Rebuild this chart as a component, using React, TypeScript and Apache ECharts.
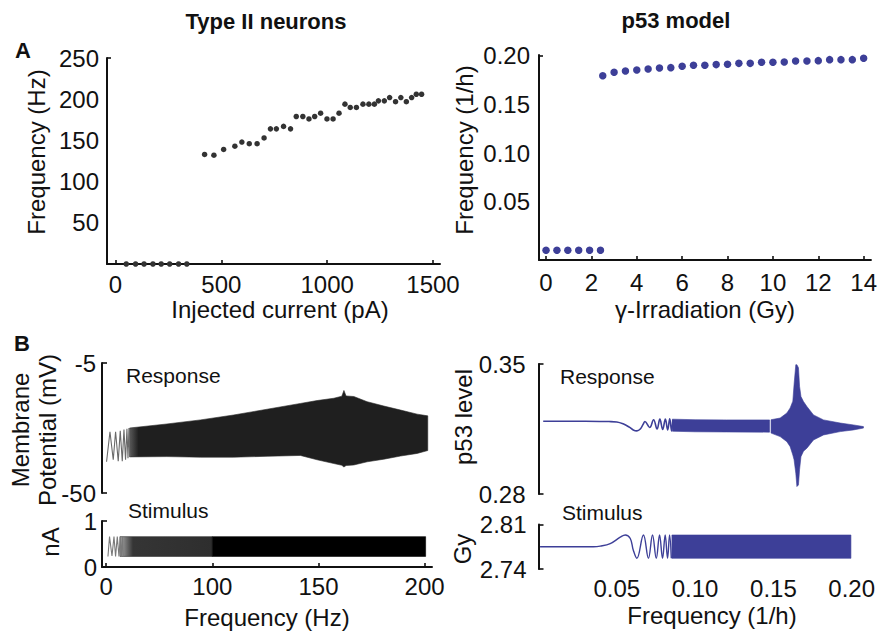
import React, { useEffect, useRef } from 'react';
import * as echarts from 'echarts';

const FONT = "'Liberation Sans', Arial, Helvetica, sans-serif";
const INK = '#111111';
const BLUE = '#3d3f98';
const DOT = '#333333';

// ---------- A (left): type II neuron, firing rate vs injected current ----------
const neuronCurrentPA = [
  51, 95, 135, 177, 216, 256, 298, 337,
  421, 465, 511, 564, 597, 632, 669, 702, 732, 760,
  794, 827, 854, 885, 914, 941, 969, 999, 1028, 1056,
  1084, 1109, 1138, 1169, 1197, 1223, 1242, 1270, 1295, 1323,
  1348, 1374, 1399, 1421, 1446,
];
const neuronRateHz = [
  0, 0, 0, 0, 0, 0, 0, 0,
  133, 132, 139, 143, 148, 146, 146, 153, 164, 164,
  167, 164, 179, 179, 176, 179, 183, 176, 176, 183,
  194, 190, 190, 194, 194, 194, 198, 198, 202, 197,
  202, 197, 202, 206, 206,
];
const neuronXTicks = [0, 500, 1000, 1500];
const neuronYTicks = [50, 100, 150, 200, 250];

// ---------- A (right): p53 oscillation frequency vs dose ----------
const doseGy = [
  0, 0.48, 0.96, 1.44, 1.92, 2.4,
  2.5, 3, 3.5, 4, 4.5, 5, 5.5, 6, 6.5, 7, 7.5, 8,
  8.5, 9, 9.5, 10, 10.5, 11, 11.5, 12, 12.5, 13, 13.5, 14,
];
const p53FreqPerH = [
  0, 0, 0, 0, 0, 0,
  0.1797, 0.1832, 0.1846, 0.1856, 0.1866, 0.1876, 0.188, 0.1894, 0.1904, 0.1904, 0.1911, 0.1914,
  0.1924, 0.1924, 0.1935, 0.1935, 0.1938, 0.1949, 0.1949, 0.1952, 0.1962, 0.1962, 0.1962, 0.1976,
];
const doseTicks = [0, 2, 4, 6, 8, 10, 12, 14];
const p53FreqTicks = [0.05, 0.1, 0.15, 0.2];

// ---------- B (left): chirp protocol; time axis normalised so ticks sit at 0..3 ----------
const chirpTickPos = [0, 1, 2, 3];
const chirpTickLabels = ['0', '100', '150', '200'];

// first resolvable cycles of the membrane response (mV)
const vmOnsetT = [0.003, 0.035, 0.066, 0.088, 0.113, 0.132, 0.151, 0.167, 0.182, 0.195, 0.205, 0.214, 0.222];
const vmOnsetMV = [-39.2, -28.8, -38.5, -28.8, -39.0, -28.5, -39.0, -28.0, -38.5, -27.8, -38.0, -27.5, -37.5];
// envelope of the dense part of the response (mV)
const vmEnvT = [0.22, 0.572, 0.887, 1.2, 1.516, 1.83, 1.987, 2.145, 2.22, 2.24, 2.26, 2.333, 2.459, 2.616, 2.774, 2.93, 3.03];
const vmEnvHi = [-27.5, -26.1, -24.7, -23.0, -21.0, -19.0, -18.0, -17.2, -16.5, -14.5, -16.4, -16.6, -18.4, -19.9, -21.3, -22.7, -23.3];
const vmEnvLo = [-37.5, -37.4, -37.6, -37.6, -37.3, -37.0, -38.5, -39.8, -40.4, -41.0, -40.5, -40.3, -39.2, -38.3, -37.2, -36.3, -35.3];
const vmYTicks = [-50, -5];

// injected current (nA)
const stimOnsetT = [0.016, 0.031, 0.054, 0.073, 0.088, 0.104, 0.12, 0.132, 0.143, 0.152, 0.16];
const stimOnsetNA = [0.23, 0.66, 0.24, 0.66, 0.23, 0.66, 0.23, 0.66, 0.23, 0.66, 0.23];
const stimRampT = [0.13, 1.0];
const stimFullT = [1.0, 3.01];
const stimLoNA = [0.23, 0.23];
const stimHiNA = [0.66, 0.66];
const stimYTicks = [0, 1];

// ---------- B (right): p53 model ----------
const p53RespF = [
  0.003, 0.03, 0.045, 0.05, 0.054, 0.058, 0.0605, 0.0628, 0.065, 0.0668, 0.068,
  0.071, 0.0735, 0.0757, 0.0775, 0.0793, 0.081, 0.0825, 0.0838, 0.085, 0.0858,
];
const p53RespV = [
  0.3192, 0.3192, 0.319, 0.3188, 0.3178, 0.316, 0.3145, 0.314, 0.315, 0.3175, 0.319,
  0.3158, 0.32, 0.315, 0.3203, 0.3147, 0.3203, 0.3145, 0.3205, 0.314, 0.32,
];
const p53BandAF = [0.0855, 0.1, 0.12, 0.1475];
const p53BandAHi = [0.3203, 0.32, 0.3199, 0.3199];
const p53BandALo = [0.3138, 0.3135, 0.3134, 0.3133];
const p53BandBF = [
  0.1485, 0.1543, 0.1586, 0.1607, 0.1624, 0.1632, 0.1643, 0.165, 0.166,
  0.1667, 0.1676, 0.1692, 0.1714, 0.1756, 0.182, 0.1927, 0.2011, 0.2075,
];
const p53BandBHi = [
  0.32, 0.3209, 0.3236, 0.3263, 0.33, 0.339, 0.3496, 0.3496, 0.348,
  0.338, 0.3325, 0.3298, 0.3271, 0.3226, 0.3199, 0.3182, 0.3172, 0.3163,
];
const p53BandBLo = [
  0.3128, 0.3109, 0.3082, 0.3055, 0.301, 0.2984, 0.2912, 0.284, 0.2849,
  0.293, 0.3001, 0.303, 0.3047, 0.3091, 0.3118, 0.3136, 0.3145, 0.3155,
];
const p53LevelTicks = [0.28, 0.35];

const doseStimF = [
  0.001, 0.035, 0.0394, 0.0458, 0.0522, 0.0554, 0.0586, 0.0605, 0.0628, 0.067, 0.0702,
  0.0728, 0.0752, 0.0773, 0.0792, 0.0809, 0.0824, 0.0837, 0.0848,
];
const doseStimGy = [
  2.7751, 2.7751, 2.776, 2.78, 2.79, 2.7935, 2.788, 2.77, 2.7568, 2.7935, 2.7568,
  2.7935, 2.7568, 2.7935, 2.7568, 2.7935, 2.7568, 2.7935, 2.7568,
];
const doseBandF = [0.0852, 0.1995];
const doseBandLo = [2.7568, 2.7568];
const doseBandHi = [2.7935, 2.7935];
const doseYTicks = [2.74, 2.81];
const modelFreqTicks = [0.05, 0.1, 0.15, 0.2];

// ---------- helpers ----------
const tickLabel = { color: INK, fontSize: 24, lineHeight: 19, fontFamily: FONT };
const solidLine = { show: true, onZero: false, lineStyle: { color: INK, width: 2 } };

function axis(gridIndex: number, min: number, max: number, extra: any) {
  return {
    type: 'value',
    gridIndex,
    min,
    max,
    splitLine: { show: false },
    axisLine: solidLine,
    ...extra,
  };
}

function ticks(values: number[], length = 4) {
  return { show: true, inside: true, length, customValues: values, lineStyle: { color: INK, width: 1.6 } };
}

function pairs(xs: number[], ys: number[]) {
  return xs.map((x, i) => [x, ys[i]]);
}

function band(grid: number, xs: number[], lo: number[], hi: number[], fill: any) {
  return {
    type: 'custom',
    xAxisIndex: grid,
    yAxisIndex: grid,
    silent: true,
    data: xs.map((x, i) => [x, lo[i], hi[i]]),
    encode: { x: 0, y: [1, 2] },
    renderItem: (params: any, api: any) => {
      if (params.dataIndex !== 0) return { type: 'group', children: [] };
      const top = xs.map((x, i) => api.coord([x, hi[i]]));
      const bottom = xs.map((x, i) => api.coord([x, lo[i]])).reverse();
      return {
        type: 'polygon',
        shape: { points: top.concat(bottom) },
        style: { fill, stroke: typeof fill === 'string' ? fill : '#2a2a2a', lineWidth: 0.6 },
      };
    },
  };
}

function trace(grid: number, xs: number[], ys: number[], color: string, width: number, smooth: number) {
  return {
    type: 'line',
    xAxisIndex: grid,
    yAxisIndex: grid,
    data: pairs(xs, ys),
    symbol: 'none',
    smooth,
    silent: true,
    lineStyle: { color, width },
  };
}

function label(text: string, x: number, y: number, o: any = {}) {
  return {
    type: 'text',
    x,
    y,
    rotation: o.rotate ? Math.PI / 2 : 0,
    silent: true,
    style: {
      text,
      fill: INK,
      fontFamily: FONT,
      fontSize: o.size ?? 24,
      fontWeight: o.bold ? 'bold' : 'normal',
      align: o.align ?? 'center',
      verticalAlign: 'middle',
      lineHeight: o.lineHeight ?? 20,
    },
  };
}

const fmt2 = (v: number) => v.toFixed(2);
const plain = (v: number) => String(v);

const option: any = {
  animation: false,
  backgroundColor: '#ffffff',
  grid: [
    { left: 107, top: 58, width: 333, height: 206 },
    { left: 539, top: 55, width: 333, height: 205 },
    { left: 102, top: 363, width: 330, height: 130 },
    { left: 102, top: 521, width: 330, height: 46 },
    { left: 538.5, top: 364, width: 332, height: 130 },
    { left: 538.5, top: 524.5, width: 332, height: 44.5 },
  ],
  xAxis: [
    axis(0, -40, 1533, {
      axisTick: ticks(neuronXTicks),
      axisLabel: { ...tickLabel, margin: 11, customValues: neuronXTicks, formatter: plain },
    }),
    axis(1, -0.31, 14.32, {
      axisTick: ticks(doseTicks),
      axisLabel: { ...tickLabel, margin: 13, customValues: doseTicks, formatter: plain },
    }),
    axis(2, -0.04, 3.07, { show: false }),
    axis(3, -0.04, 3.07, {
      axisTick: ticks(chirpTickPos),
      axisLabel: {
        ...tickLabel,
        margin: 10,
        customValues: chirpTickPos,
        formatter: (v: number) => chirpTickLabels[chirpTickPos.indexOf(v)] ?? '',
      },
    }),
    axis(4, 0, 0.212, { show: false }),
    axis(5, 0, 0.212, {
      axisLine: { show: false },
      axisTick: { show: false },
      axisLabel: { ...tickLabel, margin: 10, customValues: modelFreqTicks, formatter: fmt2 },
    }),
  ],
  yAxis: [
    axis(0, 0, 250, {
      axisTick: ticks([250]),
      axisLabel: { ...tickLabel, margin: 8, customValues: neuronYTicks, formatter: plain },
    }),
    axis(1, -0.01, 0.201, {
      axisTick: ticks([0.2]),
      axisLabel: { ...tickLabel, margin: 9, customValues: p53FreqTicks, formatter: fmt2 },
    }),
    axis(2, -50, -5, {
      axisTick: ticks(vmYTicks, 5),
      axisLabel: { ...tickLabel, margin: 6, customValues: vmYTicks, formatter: plain },
    }),
    axis(3, 0, 1, {
      axisTick: ticks(stimYTicks, 5),
      axisLabel: { ...tickLabel, margin: 5, customValues: stimYTicks, formatter: plain },
    }),
    axis(4, 0.28, 0.35, {
      axisTick: ticks(p53LevelTicks, 5),
      axisLabel: { ...tickLabel, margin: 13, customValues: p53LevelTicks, formatter: fmt2 },
    }),
    axis(5, 2.74, 2.81, {
      axisTick: ticks(doseYTicks, 5),
      axisLabel: { ...tickLabel, margin: 12, customValues: doseYTicks, formatter: fmt2 },
    }),
  ],
  series: [
    {
      type: 'scatter',
      xAxisIndex: 0,
      yAxisIndex: 0,
      data: pairs(neuronCurrentPA, neuronRateHz),
      symbolSize: 5.5,
      itemStyle: { color: DOT, opacity: 1 },
      silent: true,
    },
    {
      type: 'scatter',
      xAxisIndex: 1,
      yAxisIndex: 1,
      data: pairs(doseGy, p53FreqPerH),
      symbolSize: 7.5,
      itemStyle: { color: BLUE, opacity: 1 },
      silent: true,
    },
    // B left: membrane response
    trace(2, vmOnsetT, vmOnsetMV, '#6a6a6a', 1.1, 0),
    band(
      2,
      vmEnvT,
      vmEnvLo,
      vmEnvHi,
      new echarts.graphic.LinearGradient(0, 0, 1, 0, [
        { offset: 0, color: '#5a5a5a' },
        { offset: 0.03, color: '#1f1f1f' },
        { offset: 1, color: '#1f1f1f' },
      ])
    ),
    // B left: stimulus
    trace(3, stimOnsetT, stimOnsetNA, '#7a7a7a', 1.1, 0),
    band(
      3,
      stimRampT,
      stimLoNA,
      stimHiNA,
      new echarts.graphic.LinearGradient(0, 0, 1, 0, [
        { offset: 0, color: '#a8a8a8' },
        { offset: 0.14, color: '#353535' },
        { offset: 1, color: '#2e2e2e' },
      ])
    ),
    band(3, stimFullT, stimLoNA, stimHiNA, '#000000'),
    // B right: p53 response
    trace(4, p53RespF, p53RespV, BLUE, 1.6, 0.4),
    band(4, p53BandAF, p53BandALo, p53BandAHi, BLUE),
    band(4, p53BandBF, p53BandBLo, p53BandBHi, BLUE),
    // B right: dose stimulus
    trace(5, doseStimF, doseStimGy, BLUE, 1.4, 0.4),
    band(5, doseBandF, doseBandLo, doseBandHi, BLUE),
  ],
  graphic: [
    label('Type II neurons', 266, 21, { bold: true, size: 22 }),
    label('p53 model', 676, 20, { bold: true, size: 22 }),
    label('A', 23, 50, { bold: true, size: 22 }),
    label('B', 22, 343, { bold: true, size: 22 }),
    label('Frequency (Hz)', 36, 152, { rotate: true }),
    label('Injected current (pA)', 280, 309),
    label('Frequency (1/h)', 464, 150, { rotate: true }),
    label('γ-Irradiation (Gy)', 705, 309),
    label('Membrane\nPotential (mV)', 33.5, 430, { rotate: true, lineHeight: 27 }),
    label('nA', 50, 542, { rotate: true }),
    label('Frequency (Hz)', 267, 617),
    label('p53 level', 463, 417, { rotate: true }),
    label('Gy', 462, 549, { rotate: true }),
    label('Frequency (1/h)', 712, 615),
    label('Response', 126, 375, { size: 21, align: 'left' }),
    label('Response', 560, 376, { size: 21, align: 'left' }),
    label('Stimulus', 128, 510, { size: 21, align: 'left' }),
    label('Stimulus', 562, 512, { size: 21, align: 'left' }),
  ],
};

export default function App() {
  const ref = useRef<HTMLDivElement>(null);
  useEffect(() => {
    const chart = echarts.init(ref.current!, null, { renderer: 'svg' });
    chart.setOption(option);
    return () => chart.dispose();
  }, []);
  return (
    <div
      ref={ref}
      style={{ position: 'absolute', left: 0, top: 0, width: 880, height: 634, background: '#fff' }}
    />
  );
}
